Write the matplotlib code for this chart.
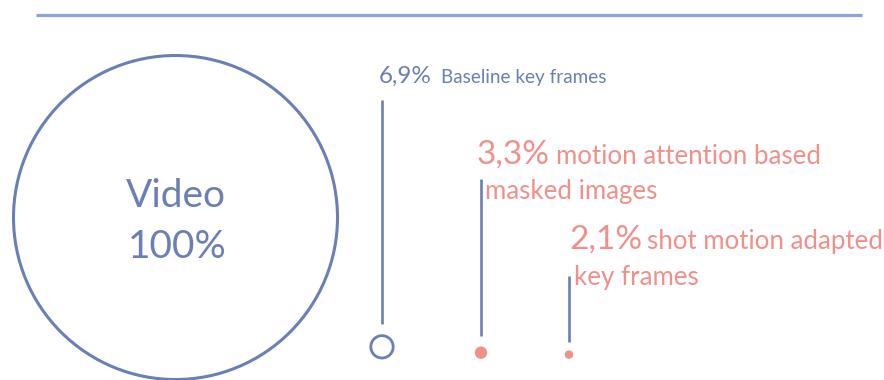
import matplotlib.pyplot as plt
from matplotlib.patches import Circle

plt.rcParams["font.family"] = ["Lato", "DejaVu Sans"]

# Share of the original video volume kept by each method
total_label = "Video"
total_pct = 100
pcts = [6.9, 3.3, 2.1]
pct_labels = ["6,9%", "3,3%", "2,1%"]
desc_lines = [
    ["Baseline key frames"],
    ["motion attention based", "masked images"],
    ["shot motion adapted", "key frames"],
]

blue = "#6A7FB6"
salmon = "#F0908A"
top_blue = "#8AA3DA"

fig = plt.figure(figsize=(8.84, 3.8), dpi=100)
ax = fig.add_axes([0, 0, 1, 1])
ax.set_xlim(0, 884)
ax.set_ylim(380, 0)
ax.set_aspect("equal")
ax.axis("off")

# rule across the top
ax.plot([36, 862], [15, 15], color=top_blue, lw=2.3, solid_capstyle="butt")

# big circle = whole video, radius scales with percentage
scale = 1.62
big_r = total_pct * scale
ax.add_patch(Circle((175.5, 217.5), big_r, fill=False, ec=blue, lw=2.2))
ax.text(176, 207, total_label, ha="center", va="baseline", fontsize=28, color=blue)
ax.text(177, 258, f"{total_pct}%", ha="center", va="baseline", fontsize=28, color=blue)

# small markers sitting on a common baseline
base_y = 358
xs = [382, 481, 569]
line_top = [100, 179, 276]
gap = [12, 11, 9]
hollow = [True, False, False]
for x, p, top, g, h in zip(xs, pcts, line_top, gap, hollow):
    r = p * scale
    cy = base_y - r
    if h:
        ax.add_patch(Circle((x, cy), r, fill=False, ec=blue, lw=2))
    else:
        ax.add_patch(Circle((x, cy), r, fc=salmon, ec=salmon, lw=1.2))
    ax.plot([x, x], [top, cy - r - g], color=blue, lw=1.9, solid_capstyle="butt")

# labels
label_cfg = [
    dict(color=blue, big=17.5, small=13.6, x=379, y=83, dx=441, step=0),
    dict(color=salmon, big=24, small=18.6, x=477, y=164, dx=556, x2=485, step=35),
    dict(color=salmon, big=24, small=18.6, x=569, y=249, dx=647, x2=574, step=36),
]
for pl, lines, c in zip(pct_labels, desc_lines, label_cfg):
    ax.text(c["x"], c["y"], pl, ha="left", va="baseline",
            fontsize=c["big"], color=c["color"])
    ax.text(c["dx"], c["y"], lines[0], ha="left", va="baseline",
            fontsize=c["small"], color=c["color"])
    if len(lines) > 1:
        ax.text(c["x2"], c["y"] + c["step"], lines[1], ha="left", va="baseline",
                fontsize=c["small"], color=c["color"])

fig.savefig("out.png", dpi=100)
